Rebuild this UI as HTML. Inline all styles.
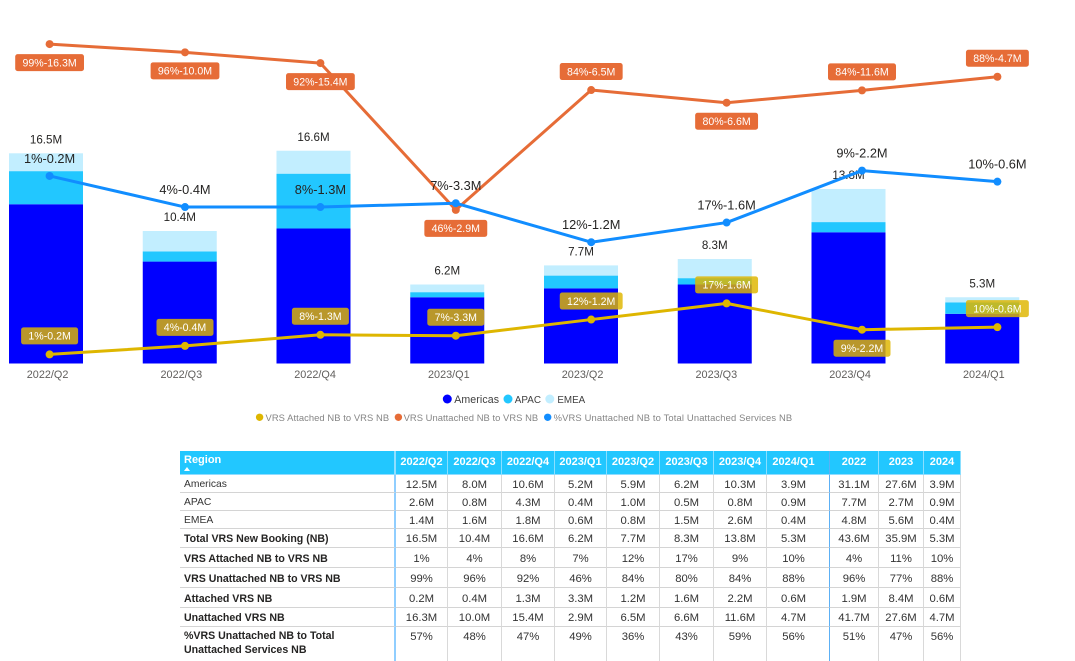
<!DOCTYPE html>
<html lang="en">
<head>
<meta charset="utf-8">
<title>VRS New Booking</title>
<style>
html,body{margin:0;padding:0;background:#fff;width:1075px;height:658px;overflow:hidden;font-family:"Liberation Sans",sans-serif}
#chart{position:absolute;left:0;top:0}
#tbl{position:absolute;left:180px;top:451px;border-collapse:separate;border-spacing:0;table-layout:fixed;width:781px;font-size:11.3px;color:#333}
#tbl th,#tbl td{padding:0;box-sizing:border-box;text-align:center;overflow:hidden;white-space:nowrap;border-bottom:1px solid #d4d4d4;border-right:1px solid #d9d9d9}
#tbl td{padding-top:2px}
#tbl th{background:#22C7FF;color:#fff;font-size:11px;font-weight:bold;height:24px;padding-bottom:2px;border-bottom:1px solid #8fdcff;border-right:1px solid #8adfff}
#tbl td:first-child,#tbl th:first-child{text-align:left;padding-left:4px;border-right:2px solid #90CEFF}
#tbl th:first-child{position:relative;vertical-align:top;padding-top:3px;border-right:2px solid #90dfff}
#tbl td:nth-child(9),#tbl th:nth-child(9){border-right:1px solid #5cb0f5;padding-right:9px}
#tbl td:first-child{font-size:10.3px}
#tbl tr.b td:first-child{font-weight:bold;color:#252423;font-size:10.6px}
#tbl tr.big td{vertical-align:top;padding-top:4px;border-bottom:none}
#tbl tr.big td:first-child{white-space:normal;line-height:14.3px;padding-top:2px}
#tri{position:absolute;left:4px;top:16px;width:0;height:0;border-left:3.5px solid transparent;border-right:3.5px solid transparent;border-bottom:4px solid #fff}
</style>
</head>
<body>
<svg id="chart" width="1075" height="445" viewBox="0 0 1075 445" xmlns="http://www.w3.org/2000/svg" font-family="Liberation Sans, sans-serif">
  <g id="bars"></g>
  <g id="totals"></g>
  <g id="axis"></g>
  <g id="lines"></g>
  <g id="labels"></g>
  <g font-size="10.6" fill="#404040">
    <circle cx="447.3" cy="399" r="4.5" fill="#0000FF"/>
    <text x="454.2" y="403" textLength="44.8">Americas</text>
    <circle cx="508" cy="399" r="4.5" fill="#22C7FF"/>
    <text x="514.8" y="403" font-size="9.9">APAC</text>
    <circle cx="549.8" cy="399" r="4.5" fill="#C2EEFF"/>
    <text x="557.4" y="403" font-size="9.8">EMEA</text>
  </g>
  <g font-size="9.4" fill="#858585">
    <circle cx="259.6" cy="417.3" r="3.7" fill="#DEB600"/>
    <text x="265.5" y="421" textLength="123.6">VRS Attached NB to VRS NB</text>
    <circle cx="398.4" cy="417.3" r="3.7" fill="#E66C37"/>
    <text x="403.6" y="421" textLength="134.6">VRS Unattached NB to VRS NB</text>
    <circle cx="547.7" cy="417.3" r="3.7" fill="#118DFF"/>
    <text x="553.6" y="421" textLength="238.6">%VRS Unattached NB to Total Unattached Services NB</text>
  </g>
</svg>

<table id="tbl">
<colgroup><col style="width:216px"><col style="width:52px"><col style="width:54px"><col style="width:53px"><col style="width:52px"><col style="width:53px"><col style="width:54px"><col style="width:53px"><col style="width:63px"><col style="width:49px"><col style="width:45px"><col style="width:37px"></colgroup>
<tr>
<th>Region<span id="tri"></span></th>
<th>2022/Q2</th><th>2022/Q3</th><th>2022/Q4</th><th>2023/Q1</th><th>2023/Q2</th><th>2023/Q3</th><th>2023/Q4</th><th>2024/Q1</th><th>2022</th><th>2023</th><th>2024</th>
</tr>
<tr style="height:18px"><td>Americas</td><td>12.5M</td><td>8.0M</td><td>10.6M</td><td>5.2M</td><td>5.9M</td><td>6.2M</td><td>10.3M</td><td>3.9M</td><td>31.1M</td><td>27.6M</td><td>3.9M</td></tr>
<tr style="height:18px"><td>APAC</td><td>2.6M</td><td>0.8M</td><td>4.3M</td><td>0.4M</td><td>1.0M</td><td>0.5M</td><td>0.8M</td><td>0.9M</td><td>7.7M</td><td>2.7M</td><td>0.9M</td></tr>
<tr style="height:18px"><td>EMEA</td><td>1.4M</td><td>1.6M</td><td>1.8M</td><td>0.6M</td><td>0.8M</td><td>1.5M</td><td>2.6M</td><td>0.4M</td><td>4.8M</td><td>5.6M</td><td>0.4M</td></tr>
<tr class="b" style="height:19px"><td>Total VRS New Booking (NB)</td><td>16.5M</td><td>10.4M</td><td>16.6M</td><td>6.2M</td><td>7.7M</td><td>8.3M</td><td>13.8M</td><td>5.3M</td><td>43.6M</td><td>35.9M</td><td>5.3M</td></tr>
<tr class="b" style="height:20px"><td>VRS Attached NB to VRS NB</td><td>1%</td><td>4%</td><td>8%</td><td>7%</td><td>12%</td><td>17%</td><td>9%</td><td>10%</td><td>4%</td><td>11%</td><td>10%</td></tr>
<tr class="b" style="height:20px"><td>VRS Unattached NB to VRS NB</td><td>99%</td><td>96%</td><td>92%</td><td>46%</td><td>84%</td><td>80%</td><td>84%</td><td>88%</td><td>96%</td><td>77%</td><td>88%</td></tr>
<tr class="b" style="height:20px"><td>Attached VRS NB</td><td>0.2M</td><td>0.4M</td><td>1.3M</td><td>3.3M</td><td>1.2M</td><td>1.6M</td><td>2.2M</td><td>0.6M</td><td>1.9M</td><td>8.4M</td><td>0.6M</td></tr>
<tr class="b" style="height:19px"><td>Unattached VRS NB</td><td>16.3M</td><td>10.0M</td><td>15.4M</td><td>2.9M</td><td>6.5M</td><td>6.6M</td><td>11.6M</td><td>4.7M</td><td>41.7M</td><td>27.6M</td><td>4.7M</td></tr>
<tr class="b big" style="height:34px"><td>%VRS Unattached NB to Total<br>Unattached Services NB</td><td>57%</td><td>48%</td><td>47%</td><td>49%</td><td>36%</td><td>43%</td><td>59%</td><td>56%</td><td>51%</td><td>47%</td><td>56%</td></tr>
</table>

<script>
const categories = ['2022/Q2','2022/Q3','2022/Q4','2023/Q1','2023/Q2','2023/Q3','2023/Q4','2024/Q1'];
const americas = [12.5,8.0,10.6,5.2,5.9,6.2,10.3,3.9];
const apac = [2.6,0.8,4.3,0.4,1.0,0.5,0.8,0.9];
const emea = [1.4,1.6,1.8,0.6,0.8,1.5,2.6,0.4];
const totalLabels = ['16.5M','10.4M','16.6M','6.2M','7.7M','8.3M','13.8M','5.3M'];
const attachedPct = [1.0,3.7,7.2,6.9,12.0,17.1,8.8,9.6];
const unattachedPct = [98.9,96.3,92.9,46.6,84.4,80.4,84.3,88.6];
const pctUnattachedTotal = [57.3,47.5,47.5,48.7,36.4,42.6,59.0,55.5];
const attachedLabels = ['1%-0.2M','4%-0.4M','8%-1.3M','7%-3.3M','12%-1.2M','17%-1.6M','9%-2.2M','10%-0.6M'];
const unattachedLabels = ['99%-16.3M','96%-10.0M','92%-15.4M','46%-2.9M','84%-6.5M','80%-6.6M','84%-11.6M','88%-4.7M'];
const attachedBelow = ['2023/Q4'];
const unattachedBelow = ['2022/Q2','2022/Q3','2022/Q4','2023/Q1','2023/Q3'];

const NS = 'http://www.w3.org/2000/svg';
const xBar = i => 46 + 133.75 * i;
const xLine = i => 49.6 + 135.4 * i;
const yBar = v => 363.5 - 12.74 * v;
const yLine = v => 357.6 - 3.17 * v;

function make(parent, tag, attrs, text) {
  const el = document.createElementNS(NS, tag);
  for (const k in attrs) el.setAttribute(k, attrs[k]);
  if (text !== undefined) el.textContent = text;
  parent.appendChild(el);
  return el;
}

const barsG = document.getElementById('bars');
const totalsG = document.getElementById('totals');
const axisG = document.getElementById('axis');
const linesG = document.getElementById('lines');
const labelsG = document.getElementById('labels');

const stackSeries = [
  {key: 'americas', values: americas, color: '#0000FF'},
  {key: 'apac', values: apac, color: '#22C7FF'},
  {key: 'emea', values: emea, color: '#C2EEFF'}
];

categories.forEach((c, i) => {
  let base = 0;
  stackSeries.forEach(s => {
    const top = base + s.values[i];
    const rect = make(barsG, 'rect', {x: xBar(i) - 37, y: yBar(top), width: 74, height: yBar(base) - yBar(top), fill: s.color});
    
    
    base = top;
  });
  const total = make(totalsG, 'text', {x: xBar(i), y: yBar(base) - 9.8, 'text-anchor': 'middle', 'font-size': 11.6, fill: '#252423'}, totalLabels[i]);
  
  
  const tick = make(axisG, 'text', {x: xBar(i) + 1.6, y: 378, 'text-anchor': 'middle', 'font-size': 10.85, fill: '#605E5C'}, c);
  
  
});

function drawLine(values, color, name) {
  const pts = values.map((v, i) => xLine(i) + ',' + yLine(v)).join(' ');
  const line = make(linesG, 'polyline', {points: pts, fill: 'none', stroke: color, 'stroke-width': 3, 'stroke-linejoin': 'round'});
  
  
  values.forEach((v, i) => {
    const dot = make(linesG, 'circle', {cx: xLine(i), cy: yLine(v), r: 4, fill: color});
    
    
  });
}
drawLine(attachedPct, '#DEB600', 'attached');
drawLine(unattachedPct, '#E66C37', 'unattached');
drawLine(pctUnattachedTotal, '#118DFF', 'pct-unattached');

function drawBoxLabels(values, texts, belowList, fill, opacity, name) {
  values.forEach((v, i) => {
    const below = belowList.includes(categories[i]);
    const h = 17;
    const py = yLine(v);
    const top = below ? py + 10 : py - 10 - h;
    const box = make(labelsG, 'rect', {y: top, height: h, rx: 2.5, fill: fill, 'fill-opacity': opacity});
    
    
    const t = make(labelsG, 'text', {x: xLine(i), y: top + 12.3, 'text-anchor': 'middle', 'font-size': 10.6, fill: '#fff'}, texts[i]);
    
    
    const w = t.getComputedTextLength() + 14.6;
    box.setAttribute('x', xLine(i) - w / 2);
    box.setAttribute('width', w);
  });
}
drawBoxLabels(attachedPct, attachedLabels, attachedBelow, '#DEB600', 0.83, 'attached');
drawBoxLabels(unattachedPct, unattachedLabels, unattachedBelow, '#E66C37', 1, 'unattached');

pctUnattachedTotal.forEach((v, i) => {
  const t = make(labelsG, 'text', {x: xLine(i), y: yLine(v) - 13, 'text-anchor': 'middle', 'font-size': 12.8, fill: '#252423'}, attachedLabels[i]);
  
  
});
</script>
</body>
</html>
